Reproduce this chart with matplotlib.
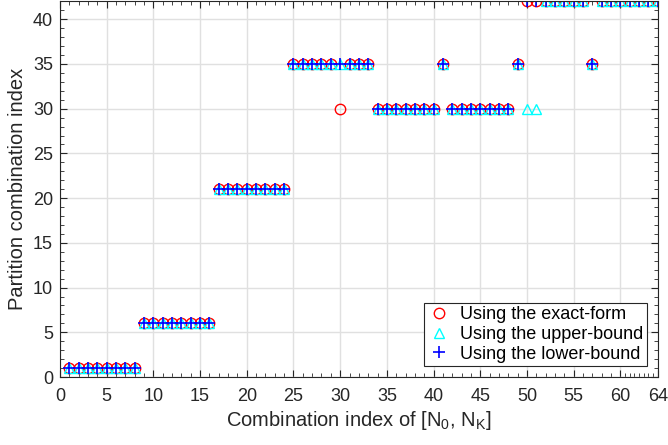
import matplotlib
matplotlib.use("Agg")
import matplotlib.pyplot as plt
import numpy as np
from matplotlib.ticker import MultipleLocator, FixedLocator

plt.rcParams['font.family'] = ['Liberation Sans', 'DejaVu Sans']
plt.rcParams['mathtext.fontset'] = 'custom'
plt.rcParams['mathtext.rm'] = 'Liberation Sans'
plt.rcParams['mathtext.it'] = 'Liberation Sans:italic'

x = list(range(1, 65))
exact = [1]*8 + [6]*8 + [21]*8 + [35, 35, 35, 35, 35, 30, 35, 35, 35] + [30]*7 + [35] + [30]*7 + [35] + [42]*7 + [35] + [42]*7
upper = [1]*8 + [6]*8 + [21]*8 + [35]*9 + [30]*7 + [35] + [30]*7 + [35] + [30, 30] + [42]*5 + [35] + [42]*7
lower = [1]*8 + [6]*8 + [21]*8 + [35]*9 + [30]*7 + [35] + [30]*7 + [35] + [42]*7 + [35] + [42]*7

xticks = [0, 5, 10, 15, 20, 25, 30, 35, 40, 45, 50, 55, 60, 64]
yticks = [0, 5, 10, 15, 20, 25, 30, 35, 40]

fig = plt.figure(figsize=(6.68, 4.45), dpi=100)
ax = fig.add_axes([60/668, 1 - 377/445, (657.7 - 60)/668, (377 - 1.4)/445])

ax.plot(x, exact, linestyle='none', marker='o', markersize=7.5, markerfacecolor='none',
        markeredgecolor='red', markeredgewidth=1.0, label='Using the exact-form')
ax.plot(x, upper, linestyle='none', marker='^', markersize=7.5, markerfacecolor='none',
        markeredgecolor='cyan', markeredgewidth=1.0, label='Using the upper-bound')
ax.plot(x, lower, linestyle='none', marker='+', markersize=8, markerfacecolor='none',
        markeredgecolor='blue', markeredgewidth=1.2, label='Using the lower-bound')

ax.set_xlim(0, 64)
ax.set_ylim(0, 42)
ax.xaxis.set_major_locator(FixedLocator(xticks))
ax.yaxis.set_major_locator(FixedLocator(yticks))
xminor = list(np.arange(0, 60, 1.0)) + list(np.arange(60, 64.01, 0.5))
ax.xaxis.set_minor_locator(FixedLocator(xminor))
ax.yaxis.set_minor_locator(MultipleLocator(1))

dark = (0.15, 0.15, 0.15)
ax.tick_params(which='both', direction='in', top=True, right=True, colors=dark, labelcolor=dark)
ax.tick_params(which='major', length=5, width=0.8, labelsize=13)
ax.tick_params(which='minor', length=3, width=0.6)
ax.tick_params(axis='x', which='major', pad=8)
ax.tick_params(axis='y', which='major', pad=5)
for s in ax.spines.values():
    s.set_color(dark)
    s.set_linewidth(0.8)

ax.grid(True, which='major', color=(0.88, 0.88, 0.88), linewidth=1.0)
ax.set_axisbelow(True)

ax.set_xlabel('Combination index of [N$_{\\mathrm{0}}$, N$_{\\mathrm{K}}$]', fontsize=14.5, color=dark, labelpad=3)
ax.set_ylabel('Partition combination index', fontsize=14.5, color=dark, labelpad=4)

leg = ax.legend(loc='lower right', fontsize=13, frameon=True, fancybox=False,
                edgecolor=dark, framealpha=1, borderpad=0.2, labelspacing=0.15,
                handletextpad=0.5, handlelength=1.3, borderaxespad=0.6)
leg.get_frame().set_linewidth(0.8)
for t in leg.get_texts():
    t.set_color('black')

fig.savefig('out.png', dpi=100)
